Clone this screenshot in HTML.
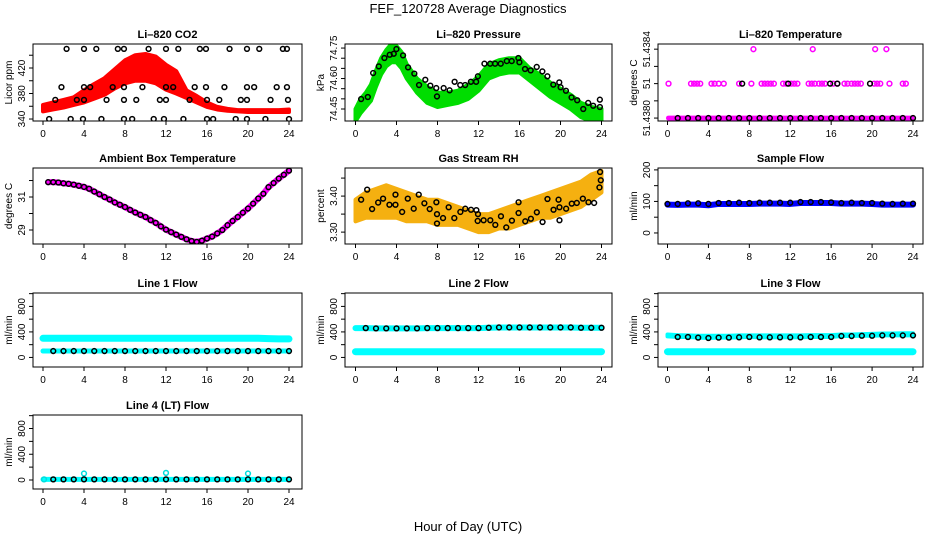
<!DOCTYPE html>
<html><head><meta charset="utf-8">
<style>
html,body{margin:0;padding:0;background:#fff;}
svg{display:block;font-family:"Liberation Sans",sans-serif;}
</style></head>
<body>
<svg id="chart" width="936" height="540" viewBox="0 0 936 540">
<text x="468" y="13" text-anchor="middle" font-size="13">FEF_120728  Average Diagnostics</text>
<text x="468" y="531" text-anchor="middle" font-size="13">Hour of Day (UTC)</text>
</svg>
<script>
// ---- data ----
const xTicks = [0,4,8,12,16,20,24];
// CO2
const co2BandHours = [0,1,2,3,4,5,6,7,8,9,10,11,12,13,14,15,16,17,18,19,20,21,22,23,24];
const co2Low  = [352,355,358,362,366,372,378,388,396,400,400,396,386,380,373,366,359,355,353,352,351,351,351,351,351];
const co2High = [362,366,370,374,385,395,404,418,432,440,442,438,425,415,385,376,366,359,356,354,354,354,354,354,355];
const co2BlackHours = [2.3,4.0,5.2,7.3,7.9,10.3,12.0,13.2,15.3,15.9,18.2,19.9,21.1,23.4,23.8,
 1.8,4.0,4.6,6.8,7.9,9.7,12.0,12.7,14.8,15.9,17.7,19.9,20.6,22.8,23.8,
 1.2,3.3,4.0,6.2,7.9,9.1,11.4,12.0,14.3,16.0,17.2,19.3,19.9,22.2,23.9,
 0.6,2.7,3.9,5.7,7.9,8.7,10.8,11.8,13.7,16.0,16.6,18.8,19.9,21.7,24.0];
const co2BlackVals = [450,450,450,450,450,450,450,450,450,450,450,450,450,450,450,
 390,390,390,390,390,390,390,390,390,390,390,390,390,390,390,
 370,370,370,370,370,370,370,370,370,370,370,370,370,370,370,
 340,340,340,340,340,340,340,340,340,340,340,340,340,340,340];
// Pressure
const prBandHours = [0,0.5,1,1.5,2,2.5,3,3.5,4,4.5,5,6,7,8,9,10,11,12,13,14,15,16,17,18,19,20,21,22,23,24];
const prLow  = [74.39,74.43,74.46,74.49,74.56,74.62,74.66,74.68,74.68,74.65,74.60,74.53,74.48,74.46,74.47,74.48,74.50,74.54,74.60,74.62,74.63,74.63,74.59,74.55,74.51,74.48,74.45,74.41,74.39,74.39];
const prHigh = [74.45,74.50,74.53,74.57,74.64,74.70,74.74,74.77,74.76,74.73,74.67,74.60,74.56,74.53,74.53,74.54,74.57,74.61,74.67,74.69,74.70,74.70,74.65,74.62,74.58,74.55,74.52,74.48,74.46,74.45];
const prBlackHours = [0.55,1.2,1.72,2.27,2.82,3.34,3.73,3.99,4.64,5.13,5.74,6.2,6.81,7.3,7.88,7.95,8.6,9.18,9.67,10.22,10.7,11.26,11.77,11.94,12.58,13.14,13.62,14.17,14.76,15.24,15.89,15.99,16.54,17.09,17.68,18.23,18.72,19.3,19.88,20.01,20.53,21.08,21.63,22.22,22.7,23.19,23.84,23.84];
const prBlackVals = [74.499,74.509,74.627,74.66,74.701,74.717,74.722,74.745,74.714,74.655,74.624,74.568,74.594,74.565,74.553,74.512,74.553,74.542,74.584,74.568,74.568,74.584,74.584,74.611,74.673,74.673,74.673,74.673,74.686,74.686,74.701,74.68,74.647,74.64,74.657,74.635,74.611,74.57,74.581,74.557,74.54,74.507,74.493,74.45,74.48,74.466,74.496,74.46];
// Li-820 temperature
const ltMidHours = [0.1,2.3,2.6,2.9,3.2,4.3,4.6,5.0,5.5,7.0,8.2,9.2,9.5,9.8,10.1,10.4,11.3,11.6,12.1,12.4,12.7,13.8,14.1,14.4,14.8,15.1,15.4,16.2,16.6,17.3,17.6,18.0,18.3,18.6,18.9,20.2,20.5,20.8,21.7,23.0,23.3];
const ltMidVals = ltMidHours.map(()=>51.4382);
const ltTopHours = [8.4,14.2,20.3,21.4];
const ltTopVals = [51.4384,51.4384,51.4384,51.4384];
const ltBlackMidHours = [7.3,11.8,15.9,16.6,19.8];
const ltBlackMidVals = [51.4382,51.4382,51.4382,51.4382,51.4382];
const ltBaseVal = 51.4380;
// Ambient box temperature
const ambHours = [0.5,1,1.5,2,2.5,3,3.5,4,4.5,5,5.5,6,6.5,7,7.5,8,8.5,9,9.5,10,10.5,11,11.5,12,12.5,13,13.5,14,14.5,15,15.5,16,16.5,17,17.5,18,18.5,19,19.5,20,20.5,21,21.5,22,22.5,23,23.5,24];
const ambVals = [31.9,31.9,31.88,31.83,31.8,31.75,31.68,31.61,31.5,31.33,31.17,31.0,30.85,30.67,30.53,30.39,30.22,30.06,29.92,29.79,29.6,29.43,29.22,29.02,28.87,28.72,28.58,28.44,28.33,28.28,28.35,28.48,28.6,28.79,29.0,29.29,29.55,29.79,30.05,30.3,30.6,30.91,31.2,31.6,31.85,32.12,32.35,32.6];
// Gas stream RH
const rhBandHours = [0,1,2,3,4,5,6,7,8,9,10,11,12,13,14,15,16,17,18,19,20,21,22,23,24];
const rhLow  = [3.33,3.34,3.34,3.34,3.34,3.33,3.33,3.33,3.32,3.32,3.32,3.31,3.30,3.30,3.31,3.31,3.32,3.33,3.34,3.34,3.35,3.36,3.37,3.39,3.41];
const rhHigh = [3.39,3.41,3.42,3.43,3.42,3.41,3.40,3.39,3.39,3.38,3.37,3.36,3.35,3.35,3.36,3.37,3.38,3.39,3.40,3.41,3.42,3.43,3.44,3.46,3.47];
const rhBlackHours = [0.55,1.14,1.62,2.21,2.69,3.31,3.9,3.9,4.55,5.1,5.68,6.17,6.72,7.24,7.89,7.95,7.95,8.54,9.09,9.64,10.23,10.71,11.27,11.79,11.95,11.92,12.5,13.15,13.64,14.19,14.71,15.26,15.91,15.91,16.56,17.11,17.69,18.25,18.73,19.32,19.81,19.9,19.9,20.55,21.1,21.59,22.18,22.73,23.28,23.86,23.93,23.8];
const rhBlackVals = [3.39,3.418,3.364,3.382,3.393,3.376,3.404,3.376,3.356,3.393,3.365,3.404,3.38,3.364,3.383,3.35,3.324,3.339,3.369,3.339,3.356,3.365,3.362,3.361,3.35,3.331,3.333,3.333,3.32,3.344,3.313,3.332,3.383,3.353,3.33,3.337,3.355,3.328,3.392,3.362,3.39,3.369,3.333,3.365,3.379,3.381,3.393,3.383,3.381,3.467,3.444,3.424];
// Flows (hourly)
const flowHours = [0,1,2,3,4,5,6,7,8,9,10,11,12,13,14,15,16,17,18,19,20,21,22,23,24];
const sampleBlue  = [90,89,90,90,88,92,92,92,92,93,93,93,92,95,95,95,95,93,93,93,92,90,90,90,90];
const sampleBlack = [92,92,94,94,92,95,95,96,95,96,96,96,96,98,98,98,97,95,96,95,95,93,92,93,93];
const line1Cyan = [300,300,300,300,300,300,300,300,300,300,300,300,300,300,300,300,300,300,300,300,300,300,295,290,290];
const line1Black= [100,100,100,100,100,100,100,100,100,100,100,100,100,100,100,100,100,100,100,100,100,100,100,100,100];
const line2Cyan = [90,90,90,90,90,90,90,90,90,90,90,90,90,90,90,90,90,90,90,90,90,90,90,90,90];
const line2Black= [460,460,455,455,455,455,455,460,460,460,460,460,460,465,470,470,470,470,470,470,470,470,465,465,465];
const line3Cyan = [90,90,90,90,90,90,90,90,90,90,90,90,90,90,90,90,90,90,90,90,90,90,90,90,90];
const line3Band = [360,350,345,340,340,340,340,345,345,345,345,345,345,345,350,350,350,360,360,365,370,375,375,380,380];
const line3Black= [330,320,320,310,305,310,310,315,320,315,315,315,315,315,320,320,320,335,335,340,340,345,345,345,345];
const line4Cyan = [10,10,10,10,10,10,10,10,10,10,10,10,10,10,10,10,10,10,10,10,10,10,10,10,10];
const line4Black= [10,10,10,10,10,10,10,10,10,10,10,10,10,10,10,10,10,10,10,10,10,10,10,10,10];
const line4SpikeHours = [0.1,4.0,12.0,20.0];
const line4SpikeVals = [10,100,110,100];

// ---- layout ----
const svg = document.getElementById('chart');
const NS = 'http://www.w3.org/2000/svg';
const cols = [{l:33,r:302,x0:43,x24:289},{l:345,r:612,x0:355.5,x24:601.5},{l:658,r:923,x0:667.5,x24:913}];
const rows = [{t:44,b:121},{t:168,b:244},{t:293,b:367},{t:415,b:489}];

function el(tag, attrs, parent){
  const e = document.createElementNS(NS, tag);
  for (const k in attrs) e.setAttribute(k, attrs[k]);
  (parent||svg).appendChild(e);
  return e;
}

function panel(cfg){
  const c = cols[cfg.col], r = rows[cfg.row];
  const g = el('g', {});
  
  
  const xs = h => c.x0 + (c.x24 - c.x0) * h / 24;
  const ys = v => r.b - (v - cfg.ylim[0]) / (cfg.ylim[1] - cfg.ylim[0]) * (r.b - r.t);
  const t = el('text', {x:(c.l+c.r)/2, y:r.t-6, 'text-anchor':'middle', 'font-size':11, 'font-weight':'bold'}, g);
  t.textContent = cfg.title;
  
  
  const plot = el('g', {}, g);
  
  
  const cid = 'clip' + cfg.col + cfg.row;
  const cp = el('clipPath', {id:cid}, g);
  el('rect', {x:c.l, y:r.t, width:c.r-c.l, height:r.b-r.t}, cp);
  plot.setAttribute('clip-path', 'url(#'+cid+')');
  cfg.draw(plot, xs, ys);
  const box = el('rect', {x:c.l, y:r.t, width:c.r-c.l, height:r.b-r.t, fill:'none', stroke:'#000', 'stroke-width':1}, g);
  
  
  xTicks.forEach(h => {
    el('line', {x1:xs(h), x2:xs(h), y1:r.b, y2:r.b+4, stroke:'#000'}, g);
    const tl = el('text', {x:xs(h), y:r.b+16, 'text-anchor':'middle', 'font-size':10}, g);
    tl.textContent = h;
    
    
  });
  cfg.yticks.forEach(v => {
    el('line', {x1:c.l-4, x2:c.l, y1:ys(v), y2:ys(v), stroke:'#000'}, g);
  });
  cfg.ylabels.forEach((v,i) => {
    const y = ys(v), x = c.l - 8;
    const tl = el('text', {x:x, y:y, 'text-anchor':'middle', 'font-size':10, transform:'rotate(-90 '+x+' '+y+')'}, g);
    tl.textContent = cfg.ytext[i];
    
    
  });
  const ym = (r.t + r.b) / 2, xt = c.l - 21;
  const yt = el('text', {x:xt, y:ym, 'text-anchor':'middle', 'font-size':10, transform:'rotate(-90 '+xt+' '+ym+')'}, g);
  yt.textContent = cfg.ylab;
  
  
}

function band(p, xs, ys, hours, lo, hi, fill, name){
  let d = hours.map((h,i)=>(i?'L':'M')+xs(h)+' '+ys(hi[i])).join(' ');
  for (let i = hours.length-1; i >= 0; i--) d += ' L'+xs(hours[i])+' '+ys(lo[i]);
  const e = el('path', {d:d+' Z', fill:fill, stroke:fill, 'stroke-width':4, 'stroke-linejoin':'round'}, p);
  
  
}
function thick(p, xs, ys, hours, vals, color, w, name){
  const d = hours.map((h,i)=>(i?'L':'M')+xs(h)+' '+ys(vals[i])).join(' ');
  const e = el('path', {d:d, fill:'none', stroke:color, 'stroke-width':w, 'stroke-linecap':'round', 'stroke-linejoin':'round'}, p);
  
  
}
function pts(p, xs, ys, hours, vals, color, name){
  hours.forEach((h,i) => {
    const e = el('circle', {cx:xs(h), cy:ys(vals[i]), r:2.4, fill:'none', stroke:color, 'stroke-width':1.5}, p);
    
    
  });
}
const range = (a,b,s)=>{const o=[];for(let v=a;v<=b+1e-9;v+=s)o.push(+v.toFixed(6));return o;};

panel({name:'panel-co2', col:0,row:0,title:'Li\u2013820 CO2', ylab:'Licor ppm', ylim:[336.9,457.6],
  yticks:[340,360,380,400,420,440], ylabels:[340,380,420], ytext:['340','380','420'],
  draw:(p,xs,ys)=>{ band(p,xs,ys,co2BandHours,co2Low,co2High,'#ff0000','co2-red-band');
    pts(p,xs,ys,co2BlackHours,co2BlackVals,'#000','co2-black-point'); }});
panel({name:'panel-pressure', col:1,row:0,title:'Li\u2013820 Pressure', ylab:'kPa', ylim:[74.391,74.77],
  yticks:range(74.45,74.75,0.05), ylabels:[74.45,74.60,74.75], ytext:['74.45','74.60','74.75'],
  draw:(p,xs,ys)=>{ band(p,xs,ys,prBandHours,prLow,prHigh,'#00dd00','pressure-green-band');
    pts(p,xs,ys,prBlackHours,prBlackVals,'#000','pressure-black-point'); }});
panel({name:'panel-li820-temp', col:2,row:0,title:'Li\u2013820 Temperature', ylab:'degrees C', ylim:[51.437983,51.43843],
  yticks:[51.4380,51.4381,51.4382,51.4383,51.4384], ylabels:[51.4380,51.4382,51.4384], ytext:['51.4380','51','51.4384'],
  draw:(p,xs,ys)=>{ thick(p,xs,ys,[0.1,23.9],[ltBaseVal,ltBaseVal],'#ff00ff',5,'li-temp-base');
    pts(p,xs,ys,ltMidHours,ltMidVals,'#ff00ff','li-temp-magenta-point');
    pts(p,xs,ys,ltTopHours,ltTopVals,'#ff00ff','li-temp-magenta-point');
    pts(p,xs,ys,flowHours.slice(1),flowHours.slice(1).map(()=>ltBaseVal),'#000','li-temp-black-point');
    pts(p,xs,ys,ltBlackMidHours,ltBlackMidVals,'#000','li-temp-black-point'); }});
panel({name:'panel-ambient-temp', col:0,row:1,title:'Ambient Box Temperature', ylab:'degrees C', ylim:[28.15,32.76],
  yticks:[29,30,31,32], ylabels:[29,31], ytext:['29','31'],
  draw:(p,xs,ys)=>{ thick(p,xs,ys,ambHours,ambVals,'#ff00ff',6,'ambient-magenta-line');
    pts(p,xs,ys,ambHours,ambVals,'#000','ambient-black-point'); }});
panel({name:'panel-gas-rh', col:1,row:1,title:'Gas Stream RH', ylab:'percent', ylim:[3.267,3.478],
  yticks:[3.30,3.35,3.40,3.45], ylabels:[3.30,3.40], ytext:['3.30','3.40'],
  draw:(p,xs,ys)=>{ band(p,xs,ys,rhBandHours,rhLow,rhHigh,'#f5b010','rh-orange-band');
    pts(p,xs,ys,rhBlackHours,rhBlackVals,'#000','rh-black-point'); }});
panel({name:'panel-sample-flow', col:2,row:1,title:'Sample Flow', ylab:'ml/min', ylim:[-35,206],
  yticks:[0,50,100,150,200], ylabels:[0,100,200], ytext:['0','100','200'],
  draw:(p,xs,ys)=>{ thick(p,xs,ys,flowHours,sampleBlue,'#0000ff',6,'sample-blue-line');
    pts(p,xs,ys,flowHours,sampleBlack,'#000','sample-black-point'); }});
const flowTicks = [0,200,400,600,800,1000];
panel({name:'panel-line1-flow', col:0,row:2,title:'Line 1 Flow', ylab:'ml/min', ylim:[-150,1010],
  yticks:flowTicks, ylabels:[0,400,800], ytext:['0','400','800'],
  draw:(p,xs,ys)=>{ thick(p,xs,ys,flowHours,line1Cyan,'#00ffff',7,'line1-cyan');
    thick(p,xs,ys,flowHours,line1Black,'#00ffff',5,'line1-cyan-low');
    pts(p,xs,ys,flowHours.slice(1),line1Black.slice(1),'#000','line1-black-point'); }});
panel({name:'panel-line2-flow', col:1,row:2,title:'Line 2 Flow', ylab:'ml/min', ylim:[-150,1010],
  yticks:flowTicks, ylabels:[0,400,800], ytext:['0','400','800'],
  draw:(p,xs,ys)=>{ thick(p,xs,ys,flowHours,line2Cyan,'#00ffff',7,'line2-cyan');
    thick(p,xs,ys,flowHours,line2Black,'#00ffff',6,'line2-cyan-high');
    pts(p,xs,ys,flowHours.slice(1),line2Black.slice(1),'#000','line2-black-point'); }});
panel({name:'panel-line3-flow', col:2,row:2,title:'Line 3 Flow', ylab:'ml/min', ylim:[-150,1010],
  yticks:flowTicks, ylabels:[0,400,800], ytext:['0','400','800'],
  draw:(p,xs,ys)=>{ thick(p,xs,ys,flowHours,line3Cyan,'#00ffff',7,'line3-cyan');
    band(p,xs,ys,flowHours,line3Black,line3Band,'#00ffff','line3-cyan-band');
    pts(p,xs,ys,flowHours.slice(1),line3Black.slice(1),'#000','line3-black-point'); }});
panel({name:'panel-line4-flow', col:0,row:3,title:'Line 4 (LT) Flow', ylab:'ml/min', ylim:[-140,1010],
  yticks:flowTicks, ylabels:[0,400,800], ytext:['0','400','800'],
  draw:(p,xs,ys)=>{ thick(p,xs,ys,flowHours,line4Cyan,'#00ffff',5,'line4-cyan');
    pts(p,xs,ys,line4SpikeHours,line4SpikeVals,'#00dddd','line4-cyan-point');
    pts(p,xs,ys,flowHours.slice(1),line4Black.slice(1),'#000','line4-black-point'); }});
</script>
</body></html>
